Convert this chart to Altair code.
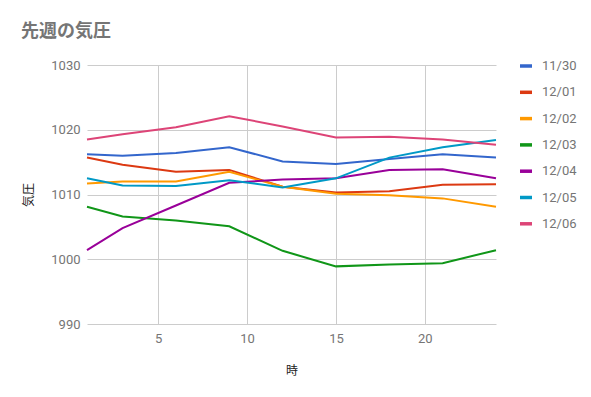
import altair as alt
import pandas as pd

hours = [1, 3, 6, 9, 12, 15, 18, 21, 24]
series_names = ["11/30", "12/01", "12/02", "12/03", "12/04", "12/05", "12/06"]
s1130 = [1016.2, 1016.0, 1016.4, 1017.3, 1015.1, 1014.7, 1015.5, 1016.2, 1015.7]
s1201 = [1015.7, 1014.6, 1013.5, 1013.8, 1011.2, 1010.3, 1010.5, 1011.5, 1011.6]
s1202 = [1011.7, 1012.0, 1012.0, 1013.5, 1011.2, 1010.1, 1009.9, 1009.4, 1008.1]
s1203 = [1008.1, 1006.6, 1006.0, 1005.1, 1001.3, 998.9, 999.2, 999.4, 1001.4]
s1204 = [1001.4, 1004.8, 1008.3, 1011.8, 1012.3, 1012.5, 1013.8, 1013.9, 1012.5]
s1205 = [1012.5, 1011.4, 1011.3, 1012.2, 1011.1, 1012.5, 1015.7, 1017.3, 1018.4]
s1206 = [1018.5, 1019.3, 1020.4, 1022.1, 1020.5, 1018.8, 1018.9, 1018.5, 1017.7]
colors = ["#3366cc", "#dc3912", "#ff9900", "#109618", "#990099", "#0099c6", "#dd4477"]
x_ticks = [5, 10, 15, 20]
y_ticks = [990, 1000, 1010, 1020, 1030]

all_series = [s1130, s1201, s1202, s1203, s1204, s1205, s1206]
rows = []
for name, vals in zip(series_names, all_series):
    for h, v in zip(hours, vals):
        rows.append({"時": h, "気圧": v, "日付": name})
df = pd.DataFrame(rows)

label_font = "Roboto"
jp_font = "Noto Sans CJK JP"

chart = alt.Chart(df).mark_line(strokeWidth=2).encode(
    x=alt.X("時:Q",
            scale=alt.Scale(domain=[1, 24], nice=False, zero=False),
            axis=alt.Axis(values=x_ticks, title="時", domain=False, ticks=False,
                          labelPadding=8, titlePadding=20, labelFontSize=13,
                          labelColor="#757575", labelFont=label_font,
                          titleFont=jp_font, titleFontSize=12, titleFontWeight="normal",
                          titleColor="#222222", gridColor="#cccccc")),
    y=alt.Y("気圧:Q",
            scale=alt.Scale(domain=[990, 1030], nice=False, zero=False),
            axis=alt.Axis(values=y_ticks, title="気圧", domain=False, ticks=False,
                          format="d",
                          labelPadding=7, titlePadding=15, labelFontSize=13,
                          labelColor="#757575", labelFont=label_font,
                          titleFont=jp_font, titleFontSize=12, titleFontWeight="normal",
                          titleColor="#222222", gridColor="#cccccc")),
    color=alt.Color("日付:N",
                    scale=alt.Scale(domain=series_names, range=colors),
                    legend=alt.Legend(title=None, orient="none", legendX=431, legendY=-7,
                                      symbolType="stroke",
                                      symbolSize=144, symbolStrokeWidth=3.5,
                                      labelFontSize=13, labelFont=label_font,
                                      labelColor="#757575", rowPadding=11.3,
                                      labelOffset=8, padding=0)),
).properties(
    width=409,
    height=259,
    title=alt.TitleParams("先週の気圧", anchor="start", frame="group", dx=-66, offset=17,
                          font=jp_font, fontSize=18, fontWeight="bold",
                          color="#757575"),
    autosize=alt.AutoSizeParams(type="none"),
    padding={"left": 79, "top": 57, "right": 86, "bottom": 63},
).configure_view(stroke=None)

chart.save("out.html", embed_options={"renderer": "svg", "actions": False})
